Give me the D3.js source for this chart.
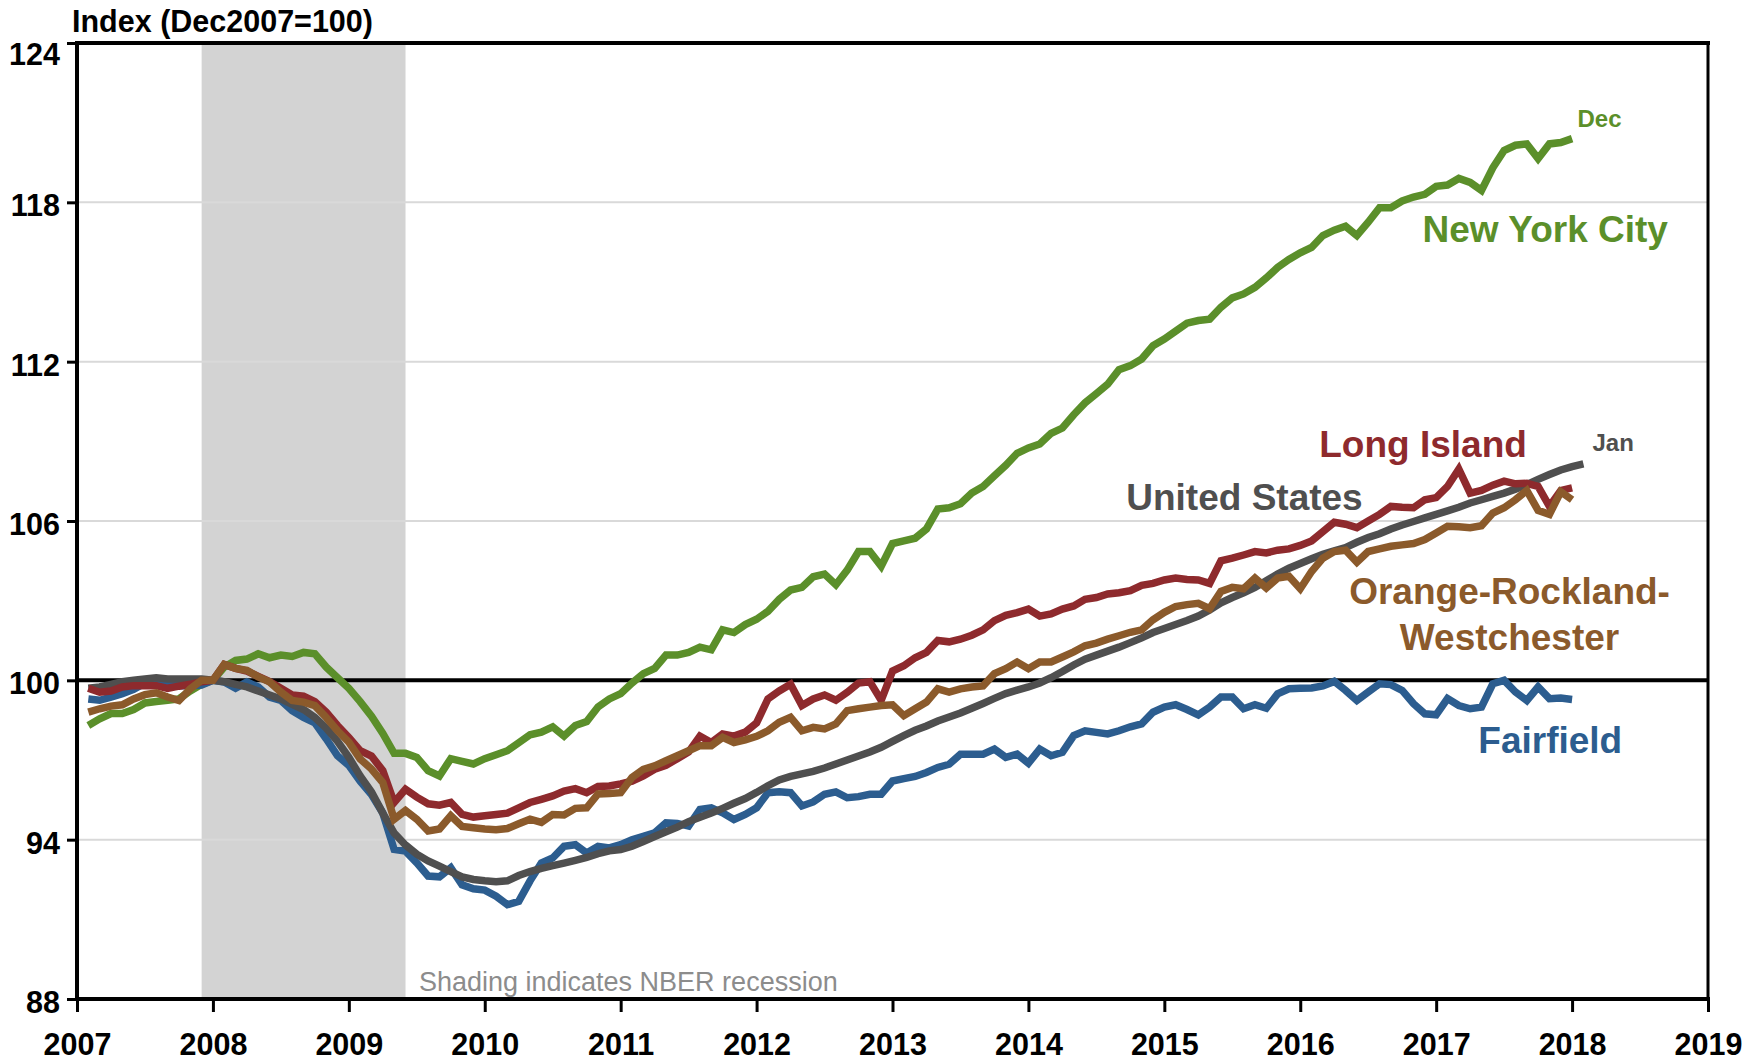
<!DOCTYPE html>
<html>
<head>
<meta charset="utf-8">
<script src="https://cdn.jsdelivr.net/npm/d3@7"></script>
<style>
  html, body { margin: 0; padding: 0; background: #ffffff; }
  svg { display: block; }
  text { font-family: "Liberation Sans", Arial, Helvetica, sans-serif; }
</style>
</head>
<body>
<div id="chart"></div>
<script>
// ---------------- data (monthly, Jan 2007 onward) ----------------
const startYear = 2007;             // first observation: Jan 2007
const yTicks = [88, 94, 100, 106, 112, 118, 124];
const xTicks = [2007, 2008, 2009, 2010, 2011, 2012, 2013, 2014, 2015, 2016, 2017, 2018, 2019];
const recession = [2007.917, 2009.417];   // Dec 2007 - Jun 2009 (NBER)

const newYorkCity = [98.3,98.55,98.75,98.75,98.9,99.15,99.2,99.25,99.3,99.6,99.85,100.0,
100.5,100.75,100.8,101.0,100.85,100.95,100.9,101.05,101.0,100.5,100.1,99.7,
99.2,98.65,98.0,97.25,97.25,97.1,96.6,96.4,97.05,96.95,96.85,97.05,
97.2,97.35,97.65,97.95,98.05,98.25,97.9,98.3,98.45,99.0,99.3,99.5,
99.9,100.25,100.45,100.95,100.95,101.05,101.25,101.15,101.9,101.8,102.1,102.3,
102.6,103.05,103.4,103.5,103.9,104.0,103.6,104.15,104.85,104.85,104.3,105.15,
105.25,105.35,105.7,106.45,106.5,106.65,107.05,107.3,107.7,108.1,108.55,108.75,
108.9,109.3,109.5,110.0,110.45,110.8,111.15,111.7,111.85,112.1,112.6,112.85,
113.15,113.45,113.55,113.6,114.05,114.4,114.55,114.8,115.15,115.55,115.85,116.1,
116.3,116.75,116.95,117.1,116.75,117.25,117.8,117.8,118.05,118.2,118.3,118.6,
118.65,118.9,118.75,118.45,119.3,119.95,120.15,120.2,119.65,120.2,120.25,120.4];

const longIsland = [99.7,99.55,99.6,99.75,99.8,99.8,99.8,99.7,99.78,99.85,99.95,100.0,
100.6,100.45,100.35,100.15,99.95,99.7,99.45,99.4,99.2,98.8,98.3,97.85,
97.35,97.15,96.6,95.4,95.9,95.6,95.35,95.3,95.4,94.95,94.85,94.9,
94.95,95.0,95.2,95.4,95.52,95.65,95.83,95.92,95.77,96.0,96.02,96.1,
96.2,96.4,96.65,96.8,97.05,97.3,97.9,97.66,97.98,97.9,98.05,98.4,
99.3,99.6,99.85,99.05,99.3,99.45,99.25,99.55,99.9,99.95,99.25,100.35,
100.55,100.85,101.05,101.5,101.45,101.55,101.7,101.9,102.25,102.45,102.55,102.68,
102.42,102.5,102.68,102.8,103.05,103.12,103.25,103.3,103.38,103.58,103.65,103.78,
103.85,103.8,103.78,103.65,104.5,104.6,104.72,104.85,104.8,104.9,104.95,105.08,
105.25,105.6,105.95,105.88,105.75,106.0,106.25,106.55,106.52,106.5,106.8,106.88,
107.3,107.95,107.05,107.15,107.35,107.5,107.4,107.42,107.3,106.55,107.15,107.25];

const unitedStates = [99.7,99.75,99.85,99.95,100.0,100.05,100.1,100.05,100.05,100.05,100.05,100.0,
99.95,99.85,99.75,99.6,99.45,99.3,99.1,98.9,98.6,98.2,97.7,97.1,
96.4,95.8,95.0,94.25,93.8,93.45,93.2,93.0,92.8,92.6,92.5,92.45,
92.42,92.45,92.65,92.8,92.92,93.02,93.12,93.22,93.33,93.47,93.58,93.63,
93.75,93.93,94.12,94.3,94.47,94.68,94.84,95.0,95.18,95.37,95.55,95.78,
96.03,96.25,96.38,96.48,96.57,96.7,96.85,97.0,97.15,97.3,97.48,97.7,
97.92,98.12,98.28,98.47,98.62,98.77,98.95,99.13,99.32,99.5,99.63,99.75,
99.9,100.1,100.33,100.58,100.8,100.95,101.1,101.25,101.42,101.6,101.8,101.95,
102.1,102.25,102.42,102.65,102.92,103.12,103.3,103.5,103.75,104.0,104.22,104.4,
104.58,104.75,104.88,105.0,105.2,105.38,105.52,105.7,105.85,105.98,106.12,106.25,
106.38,106.52,106.68,106.8,106.93,107.05,107.2,107.37,107.57,107.75,107.92,108.05,
108.15];

const orangeRocklandWestchester = [98.8,98.93,99.03,99.08,99.3,99.46,99.53,99.37,99.24,99.68,100.0,100.0,
100.6,100.45,100.38,100.13,99.94,99.56,99.24,99.18,99.05,98.6,98.1,97.67,
97.04,96.66,96.15,94.77,95.1,94.77,94.33,94.4,94.9,94.5,94.45,94.4,
94.37,94.42,94.6,94.77,94.65,94.95,94.93,95.18,95.2,95.72,95.74,95.77,
96.34,96.65,96.78,96.97,97.16,97.35,97.54,97.54,97.85,97.66,97.76,97.89,
98.1,98.42,98.61,98.1,98.23,98.17,98.36,98.86,98.93,98.99,99.05,99.08,
98.67,98.93,99.18,99.68,99.56,99.68,99.75,99.79,100.25,100.44,100.69,100.44,
100.69,100.69,100.88,101.07,101.3,101.4,101.55,101.68,101.81,101.9,102.28,102.56,
102.78,102.85,102.9,102.7,103.35,103.5,103.45,103.85,103.48,103.85,103.92,103.45,
104.1,104.6,104.85,104.9,104.45,104.85,104.95,105.05,105.1,105.15,105.3,105.55,
105.8,105.78,105.75,105.82,106.3,106.5,106.8,107.15,106.4,106.25,107.1,106.8];

const fairfield = [99.3,99.25,99.37,99.5,99.66,99.9,99.93,99.8,99.8,99.8,99.82,100.0,
99.94,99.7,99.94,99.75,99.37,99.24,98.86,98.6,98.4,97.8,97.16,96.8,
96.2,95.7,95.0,93.63,93.57,93.13,92.63,92.6,92.94,92.3,92.15,92.1,
91.87,91.55,91.68,92.45,93.12,93.31,93.75,93.81,93.5,93.75,93.69,93.81,
94.0,94.13,94.26,94.63,94.61,94.51,95.14,95.2,95.01,94.76,94.95,95.2,
95.77,95.8,95.77,95.27,95.42,95.71,95.8,95.58,95.62,95.71,95.71,96.21,
96.3,96.38,96.53,96.72,96.84,97.22,97.22,97.22,97.41,97.1,97.22,96.88,
97.41,97.16,97.29,97.92,98.1,98.04,97.98,98.1,98.25,98.36,98.8,98.99,
99.08,98.9,98.7,98.99,99.37,99.37,98.93,99.08,98.95,99.49,99.68,99.7,
99.71,99.79,99.96,99.62,99.24,99.56,99.87,99.84,99.62,99.12,98.74,98.7,
99.31,99.05,98.93,98.99,99.87,100.0,99.56,99.24,99.75,99.31,99.33,99.28];

const seriesNames = ["New York City", "Fairfield", "United States", "Long Island", "Orange-Rockland-Westchester"];
const seriesValues = [newYorkCity, fairfield, unitedStates, longIsland, orangeRocklandWestchester];
const seriesColors = ["#5b8f2a", "#2c5d8f", "#4f4f4f", "#8e2a2d", "#8b5a2b"];

// ---------------- layout ----------------
const W = 1762, H = 1061;
const margin = { left: 77, right: W - 1708, top: 43, bottom: H - 999 };
const fontStack = '"Liberation Sans", Arial, Helvetica, sans-serif';

const svg = d3.select("#chart").append("svg")
  .attr("width", W).attr("height", H)
  .attr("viewBox", `0 0 ${W} ${H}`);

const x = d3.scaleLinear().domain([2007, 2019]).range([margin.left, W - margin.right]);
const y = d3.scaleLinear().domain([88, 124]).range([H - margin.bottom, margin.top]);

// month index -> decimal year (observation plotted at end of month)
const monthPos = i => startYear + (i + 1) / 12;

// recession shading
svg.append("rect")
  .attr("x", x(recession[0])).attr("y", y(124))
  .attr("width", x(recession[1]) - x(recession[0]))
  .attr("height", y(88) - y(124))
  .attr("fill", "#d3d3d3");

// gridlines
svg.append("g").selectAll("line")
  .data(yTicks.filter(d => d !== 88 && d !== 124 && d !== 100))
  .join("line")
  .attr("x1", x(2007)).attr("x2", x(2019))
  .attr("y1", d => y(d)).attr("y2", d => y(d))
  .attr("stroke", "#d9d9d9").attr("stroke-width", 2);

// recession note
svg.append("text")
  .attr("x", x(2009.516)).attr("y", y(88.3))
  .attr("font-size", 27).attr("fill", "#8c8c8c")
  .text("Shading indicates NBER recession");

// 100 reference line
svg.append("line")
  .attr("x1", x(2007)).attr("x2", x(2019))
  .attr("y1", y(100)).attr("y2", y(100))
  .attr("stroke", "#000").attr("stroke-width", 4);

// series
const line = d3.line()
  .x((d, i) => x(monthPos(i)))
  .y(d => y(d));

svg.append("g").selectAll("path")
  .data(seriesValues)
  .join("path")
  .attr("d", d => line(d))
  .attr("fill", "none")
  .attr("stroke", (d, i) => seriesColors[i])
  .attr("stroke-width", 7.5)
  .attr("stroke-linejoin", "miter")
  .attr("stroke-miterlimit", 3)
  .attr("stroke-linecap", "butt");

// frame: top and right borders
svg.append("line")
  .attr("x1", x(2007)).attr("x2", x(2019) + 2)
  .attr("y1", y(124)).attr("y2", y(124))
  .attr("stroke", "#000").attr("stroke-width", 4);
svg.append("line")
  .attr("x1", x(2019)).attr("x2", x(2019))
  .attr("y1", y(124)).attr("y2", y(88))
  .attr("stroke", "#000").attr("stroke-width", 3);

// y axis
const yAxis = svg.append("g")
  .attr("transform", `translate(${x(2007)},0)`)
  .call(d3.axisLeft(y).tickValues(yTicks).tickSize(10).tickPadding(17).tickFormat(d3.format("d")));
yAxis.select(".domain").attr("stroke", "#000").attr("stroke-width", 4)
  .attr("d", `M0,${y(124) - 2}V${y(88) + 2}`);
yAxis.selectAll(".tick line").attr("stroke", "#000").attr("stroke-width", 3);
yAxis.selectAll(".tick text")
  .attr("font-family", fontStack).attr("font-size", 30.5).attr("font-weight", "bold")
  .attr("fill", "#000")
  .attr("dy", d => d === 124 ? "21px" : "13.5px")
  .attr("x", -17);

// x axis
const xAxis = svg.append("g")
  .attr("transform", `translate(0,${y(88)})`)
  .call(d3.axisBottom(x).tickValues(xTicks).tickSize(13).tickFormat(d3.format("d")));
xAxis.select(".domain").attr("stroke", "#000").attr("stroke-width", 4)
  .attr("d", `M${x(2007) - 2},0H${x(2019) + 2}`);
xAxis.selectAll(".tick line").attr("stroke", "#000").attr("stroke-width", 3);
xAxis.selectAll(".tick text")
  .attr("font-family", fontStack).attr("font-size", 30.5).attr("font-weight", "bold")
  .attr("fill", "#000")
  .attr("y", 56).attr("dy", 0);

// title
svg.append("text")
  .attr("x", 72).attr("y", 32)
  .attr("font-size", 30.5).attr("font-weight", "bold").attr("fill", "#000")
  .text("Index (Dec2007=100)");

// series labels (positioned in data units)
const labels = [
  { t: "New York City", xv: 2016.90, yv: 116.51, c: "#5b8f2a", s: 37, a: "start" },
  { t: "Dec", xv: 2018.04, yv: 120.84, c: "#5b8f2a", s: 24, a: "start" },
  { t: "Long Island", xv: 2016.14, yv: 108.41, c: "#8e2a2d", s: 37, a: "start" },
  { t: "Jan", xv: 2018.15, yv: 108.64, c: "#4f4f4f", s: 24, a: "start" },
  { t: "United States", xv: 2014.72, yv: 106.42, c: "#4f4f4f", s: 37, a: "start" },
  { t: "Orange-Rockland-", xv: 2017.54, yv: 102.88, c: "#8b5a2b", s: 37, a: "middle" },
  { t: "Westchester", xv: 2017.54, yv: 101.15, c: "#8b5a2b", s: 37, a: "middle" },
  { t: "Fairfield", xv: 2017.31, yv: 97.27, c: "#2c5d8f", s: 37, a: "start" }
];
svg.append("g").selectAll("text")
  .data(labels)
  .join("text")
  .attr("x", d => x(d.xv)).attr("y", d => y(d.yv))
  .attr("text-anchor", d => d.a)
  .attr("font-size", d => d.s).attr("font-weight", "bold")
  .attr("fill", d => d.c)
  .text(d => d.t);
</script>
</body>
</html>
